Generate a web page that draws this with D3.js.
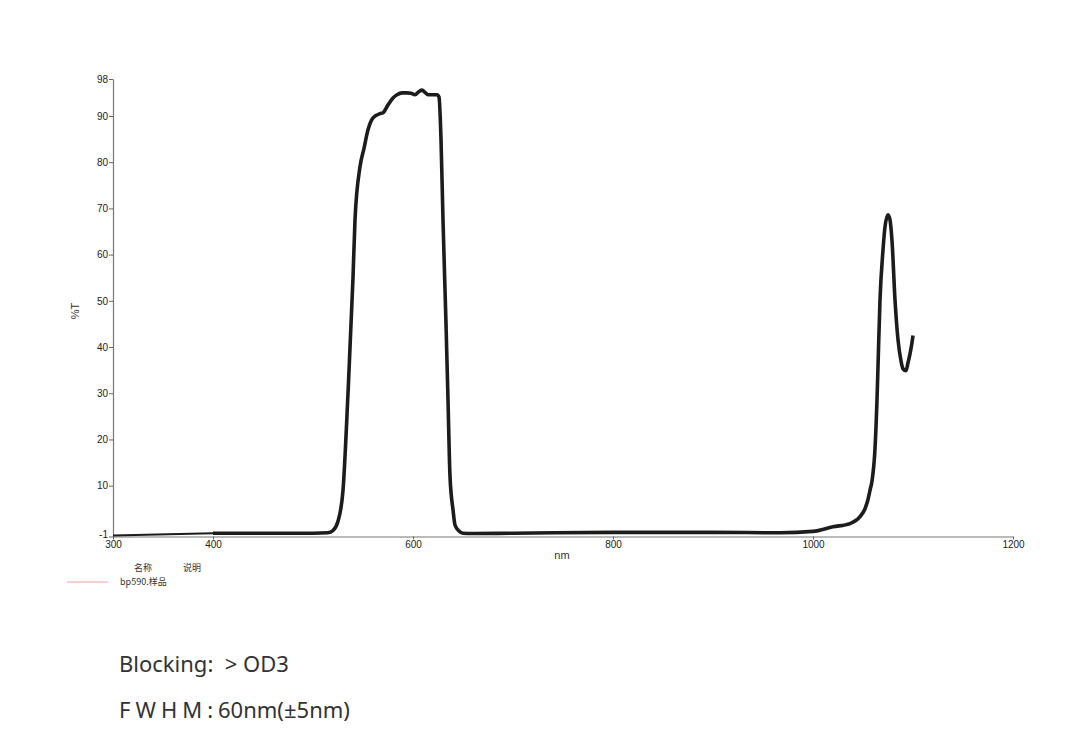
<!DOCTYPE html>
<html>
<head>
<meta charset="utf-8">
<script src="https://cdn.jsdelivr.net/npm/d3@7"></script>
<style>
  body { margin: 0; background: #fff; }
  svg { display: block; }
</style>
</head>
<body>
<div id="chart"></div>
<script>
// Data (nm, %T)
const wavelength = [300, 400, 450, 500, 515, 520, 525, 530, 535, 540, 542, 547, 551, 555, 560, 567, 570, 575, 580, 584, 589, 594, 598, 602, 606, 609, 612, 615, 620, 624, 626, 628, 630, 633, 635, 637, 640, 642, 646, 650, 660, 700, 800, 900, 967, 1000, 1020, 1037, 1047, 1052, 1055, 1057, 1059, 1062, 1064, 1065, 1067, 1070, 1072, 1075, 1077, 1079, 1082, 1085, 1088, 1090, 1093, 1095, 1097, 1099, 1100];
const transmission = [-0.8, -0.3, -0.3, -0.3, -0.2, 0.3, 2.3, 9, 30, 55, 67.5, 79, 83, 87, 89.6, 90.5, 90.7, 92.4, 93.9, 94.6, 95, 95, 94.9, 94.6, 95.3, 95.6, 95.1, 94.6, 94.6, 94.6, 94.1, 85, 67.5, 45, 28.6, 12, 4.8, 1.5, 0.2, -0.3, -0.35, -0.3, -0.1, -0.1, -0.2, 0.1, 1.1, 1.8, 3.3, 5, 7, 9, 11, 18, 28.6, 35.8, 50.2, 61, 66, 68.6, 67.5, 63, 50.2, 41.6, 37, 35.3, 34.9, 36.6, 38.5, 41, 42.5];
const yTicks = [-1, 10, 20, 30, 40, 50, 60, 70, 80, 90, 98];
const xTicks = [300, 400, 600, 800, 1000, 1200];
const legendHeader = ["名称", "说明"];
const seriesName = "bp590.样品";
const notes = ["Blocking:\u00a0 > OD3", "60nm(±5nm)"];

const width = 1070, height = 755;
const svg = d3.select("#chart").append("svg")
    .attr("width", width).attr("height", height);

const x = d3.scaleLinear().domain([300, 1200]).range([113, 1013]);
const y = d3.scaleLinear().domain([-1, 98]).range([536.5, 79]);

// Axes
const xAxis = svg.append("g")
    .attr("transform", `translate(0,${y(-1)})`)
    .call(d3.axisBottom(x).tickValues(xTicks).tickFormat(d => String(d)).tickSize(3).tickSizeOuter(0));
const yAxis = svg.append("g")
    .attr("transform", `translate(${x(300)},0)`)
    .call(d3.axisLeft(y).tickValues(yTicks).tickFormat(d => String(d)).tickSize(4).tickSizeOuter(0).tickPadding(1));

[xAxis, yAxis].forEach(g => {
    g.select(".domain").attr("stroke", "#777").attr("stroke-width", 1.2);
    g.selectAll(".tick line").attr("stroke", "#666");
    g.selectAll(".tick text")
        .attr("fill", "#222")
        .style("font-family", "'Liberation Sans', Arial, sans-serif")
        .style("font-size", "10px");
});
xAxis.selectAll(".tick text").attr("dy", "0.55em");
// the -1 label sits just above the 300 label, as in the original
yAxis.selectAll(".tick text").filter(d => d === -1).attr("dy", "0.1em");

// Axis titles
svg.append("text")
    .attr("x", 562).attr("y", 559)
    .attr("text-anchor", "middle")
    .attr("fill", "#333")
    .style("font-family", "'Liberation Sans', Arial, sans-serif")
    .style("font-size", "11px")
    .text("nm");
svg.append("text")
    .attr("transform", "translate(79,311) rotate(-90)")
    .attr("text-anchor", "middle")
    .attr("fill", "#333")
    .style("font-family", "'Liberation Sans', Arial, sans-serif")
    .style("font-size", "11px")
    .text("%T");

// Curve
const points = wavelength.map((w, i) => [w, transmission[i]]);
const line = d3.line()
    .x(d => x(d[0]))
    .y(d => y(d[1]))
    .curve(d3.curveMonotoneX);

svg.append("path")
    .datum(points.filter(d => d[0] <= 400))
    .attr("fill", "none")
    .attr("stroke", "#1c1c1c")
    .attr("stroke-width", 2)
    .attr("d", line);
svg.append("path")
    .datum(points.filter(d => d[0] >= 400))
    .attr("fill", "none")
    .attr("stroke", "#1c1c1c")
    .attr("stroke-width", 3.6)
    .attr("stroke-linejoin", "round")
    .attr("d", line);

// Legend
const legend = svg.append("g")
    .style("font-family", "'Noto Sans CJK SC', 'Liberation Sans', sans-serif")
    .style("font-size", "9px")
    .attr("fill", "#333");
legend.selectAll("text.head")
    .data(legendHeader)
    .join("text")
    .attr("class", "head")
    .attr("x", (d, i) => i === 0 ? 143 : 192)
    .attr("y", 571)
    .attr("text-anchor", "middle")
    .text(d => d);
legend.append("line")
    .attr("x1", 67).attr("x2", 108)
    .attr("y1", 582).attr("y2", 582)
    .attr("stroke", "#f4a09a").attr("stroke-width", 1);
legend.append("text")
    .attr("x", 120).attr("y", 585)
    .text(seriesName);

// Notes below chart
const notesG = svg.append("g")
    .style("font-family", "'Noto Sans', 'Open Sans', sans-serif")
    .style("font-size", "22px")
    .attr("fill", "#333");
notesG.append("text")
    .attr("x", 119).attr("y", 672)
    .text(notes[0]);
const fw = notesG.append("text")
    .attr("x", 119).attr("y", 718);
fw.append("tspan").attr("letter-spacing", "5px").text("FWHM:");
fw.append("tspan").text(notes[1]);
</script>
</body>
</html>
